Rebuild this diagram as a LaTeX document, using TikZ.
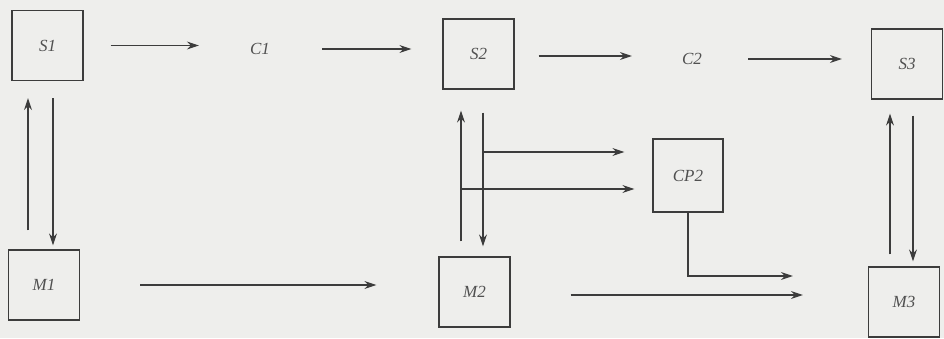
\documentclass[tikz,border=0pt]{standalone}
\usepackage{fontspec}
\setmainfont{Liberation Serif}
\usetikzlibrary{arrows.meta}
\definecolor{bgc}{HTML}{EEEEEC}
\definecolor{ln}{HTML}{3C3C3C}
\definecolor{tx}{HTML}{505050}
\tikzset{
  blk/.style={draw=ln, line width=1.3pt, minimum width=71pt, minimum height=70pt, inner sep=0pt, font=\fontsize{17}{17}\selectfont\itshape, text=tx},
  lbl/.style={inner sep=0pt, font=\fontsize{17}{17}\selectfont\itshape, text=tx},
  arr/.style={draw=ln, line width=1.2pt, -{Stealth[length=12pt,width=8pt]}},
  seg/.style={draw=ln, line width=1.2pt}
}
\begin{document}
\begin{tikzpicture}[x=1pt,y=-1pt]
\fill[bgc] (0,0) rectangle (944,338);
\useasboundingbox (0,0) rectangle (944,338);
% nodes
\node[blk] (S1) at (47.5,45.5) {S1};
\node[lbl] (C1) at (260,49) {C1};
\node[blk] (S2) at (478.5,54) {S2};
\node[lbl] (C2) at (692,59) {C2};
\node[blk] (S3) at (907,64) {S3};
\node[blk] (M1) at (44,285) {M1};
\node[blk] (M2) at (474.5,292) {M2};
\node[blk] (M3) at (904,302) {M3};
\node[blk, minimum width=70pt, minimum height=73pt] (CP2) at (688,175.5) {CP2};
% top row
\draw[arr, shorten <=27pt, shorten >=51pt] (S1.east) -- (S1.east -| C1.west);
\draw[arr, shorten <=52pt, shorten >=31pt] (C1.east) -- (C1.east -| S2.west);
\draw[arr, shorten <=24pt, shorten >=50pt] ([yshift=-2pt]S2.east) -- ([yshift=-2pt]S2.east -| C2.west);
\draw[arr, shorten <=46pt, shorten >=29pt] (C2.east) -- (C2.east -| S3.west);
% bottom row
\draw[arr, shorten <=60pt, shorten >=62pt] (M1.east) -- (M1.east -| M2.west);
\draw[arr, shorten <=60pt, shorten >=65pt] ([yshift=-3pt]M2.east) -- ([yshift=-3pt]M2.east -| M3.west);
% S1 - M1
\draw[arr, shorten <=19pt, shorten >=17pt] ([xshift=-19.5pt]S1.south |- M1.north) -- ([xshift=-19.5pt]S1.south);
\draw[arr, shorten <=17pt, shorten >=4pt] ([xshift=5.5pt]S1.south) -- ([xshift=5.5pt]S1.south |- M1.north);
% S2 - M2
\draw[arr, shorten <=15pt, shorten >=21pt] ([xshift=-17.5pt]S2.south |- M2.north) -- ([xshift=-17.5pt]S2.south);
\draw[arr, shorten <=23pt, shorten >=10pt] ([xshift=4.5pt]S2.south) -- ([xshift=4.5pt]S2.south |- M2.north);
\coordinate (b1) at (483,152);
\coordinate (b2) at (461,189);
\draw[arr, shorten >=28pt] (b1) -- (b1 -| CP2.west);
\draw[arr, shorten >=18pt] (b2) -- (b2 -| CP2.west);
% CP2 - M3
\draw[arr, shorten >=75pt] (CP2.south) |- ([yshift=26pt]M3.west);
% S3 - M3
\draw[arr, shorten <=12pt, shorten >=14pt] ([xshift=-17pt]S3.south |- M3.north) -- ([xshift=-17pt]S3.south);
\draw[arr, shorten <=16pt, shorten >=5pt] ([xshift=6pt]S3.south) -- ([xshift=6pt]S3.south |- M3.north);
\end{tikzpicture}
\end{document}
